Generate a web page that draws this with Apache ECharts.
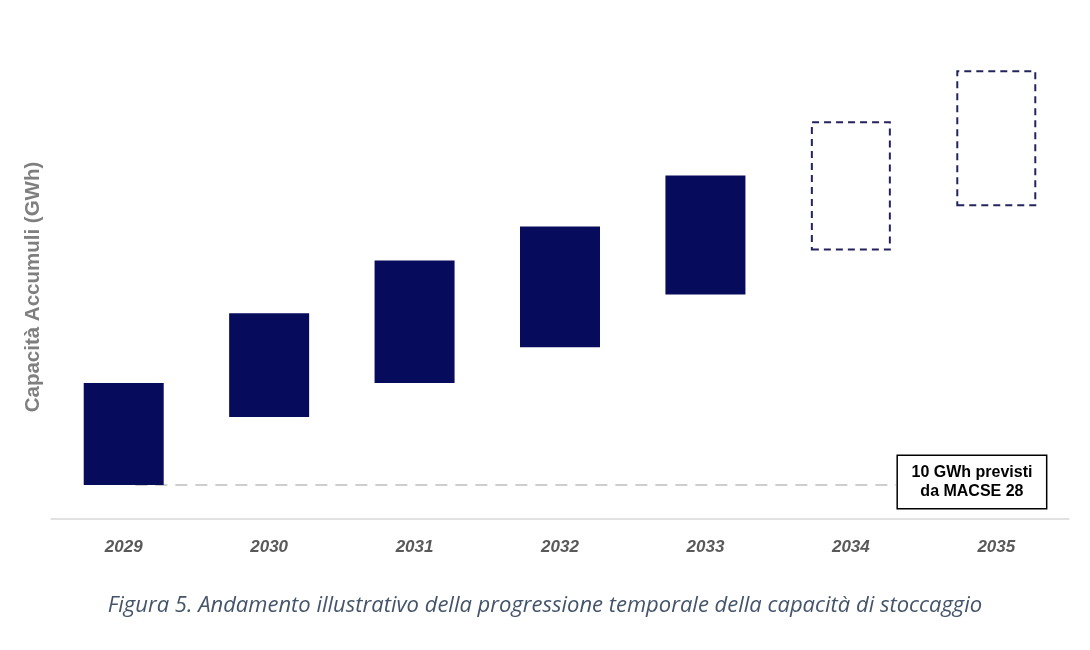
<!DOCTYPE html>
<html>
<head>
<meta charset="utf-8">
<script src="https://cdn.jsdelivr.net/npm/echarts@6/dist/echarts.min.js"></script>
<style>
html,body{margin:0;padding:0;background:#fff;}
#main{width:1090px;height:650px;}
</style>
</head>
<body>
<div id="main"></div>
<script>
// ---- data ----
var categories = ['2029', '2030', '2031', '2032', '2033', '2034', '2035'];
var lows  = [10, 30, 40, 50.5, 66, 79, 92];
var highs = [40, 60.5, 76, 86, 101, 117, 132];
var projected = [false, false, false, false, false, true, true];
var macseValue = 10;
var macseSpan = [0.58, 5.81];   // in category units along the axis
var macseLines = ['10 GWh previsti', 'da MACSE 28'];
var yTitle = 'Capacità Accumuli (GWh)';
var caption = 'Figura 5. Andamento illustrativo della progressione temporale della capacità di stoccaggio';

var navy = '#060B5B';

var rangeData = categories.map(function (c, i) {
  var v = +(highs[i] - lows[i]).toFixed(2);
  if (projected[i]) {
    return {
      value: v,
      itemStyle: {
        color: 'rgba(0,0,0,0)',
        borderColor: '#23235E',
        borderWidth: 2,
        borderType: [7, 5]
      }
    };
  }
  return { value: v, itemStyle: { color: navy } };
});

var chart = echarts.init(document.getElementById('main'), null, { renderer: 'canvas' });
chart.setOption({
  animation: false,
  backgroundColor: '#ffffff',
  title: {
    text: caption,
    left: 'center',
    top: 590,
    textStyle: {
      fontFamily: 'Open Sans',
      fontStyle: 'italic',
      fontWeight: 'normal',
      fontSize: 22,
      color: '#44546A'
    }
  },
  grid: { left: 51, right: 21, top: 43, bottom: 131 },
  xAxis: [{
    type: 'category',
    data: categories,
    axisLine: { lineStyle: { color: '#D9D9D9', width: 1.5 } },
    axisTick: { show: false },
    axisLabel: {
      margin: 20,
      fontFamily: 'Liberation Sans, Arial',
      fontStyle: 'italic',
      fontWeight: 'bold',
      fontSize: 17,
      color: '#595959'
    }
  }, {
    type: 'value',
    min: 0,
    max: categories.length,
    show: false
  }],
  yAxis: {
    type: 'value',
    min: 0,
    max: 140,
    name: yTitle,
    nameLocation: 'middle',
    nameGap: 7,
    nameTextStyle: {
      fontFamily: 'Liberation Sans, Arial',
      fontWeight: 'bold',
      fontSize: 20.5,
      color: '#7F7F7F',
      padding: [0, 12, 0, 0]
    },
    axisLine: { show: false },
    axisTick: { show: false },
    axisLabel: { show: false },
    splitLine: { show: false }
  },
  series: [{
    type: 'bar',
    stack: 'r',
    data: lows,
    barWidth: 80,
    itemStyle: { color: 'rgba(0,0,0,0)' },
    silent: true,
    z: 1
  }, {
    type: 'bar',
    stack: 'r',
    data: rangeData,
    barWidth: 80,
    z: 3
  }, {
    type: 'line',
    xAxisIndex: 1,
    data: [[macseSpan[0], macseValue], [macseSpan[1], macseValue]],
    symbol: 'none',
    lineStyle: { color: '#BFBFBF', width: 1.5, type: [12, 8] },
    z: 2,
    endLabel: {
      show: true,
      formatter: macseLines.map(function (s) { return '{a|' + s + '}'; }).join('\n'),
      distance: 2,
      offset: [0, -3],
      align: 'left',
      backgroundColor: '#fff',
      borderColor: '#000',
      borderWidth: 1.5,
      padding: [7, 16, 7, 16],
      rich: {
        a: {
          width: 116,
          align: 'center',
          fontFamily: 'Liberation Sans, Arial',
          fontWeight: 'bold',
          fontSize: 16,
          lineHeight: 19,
          color: '#000'
        }
      }
    }
  }]
});
</script>
</body>
</html>
